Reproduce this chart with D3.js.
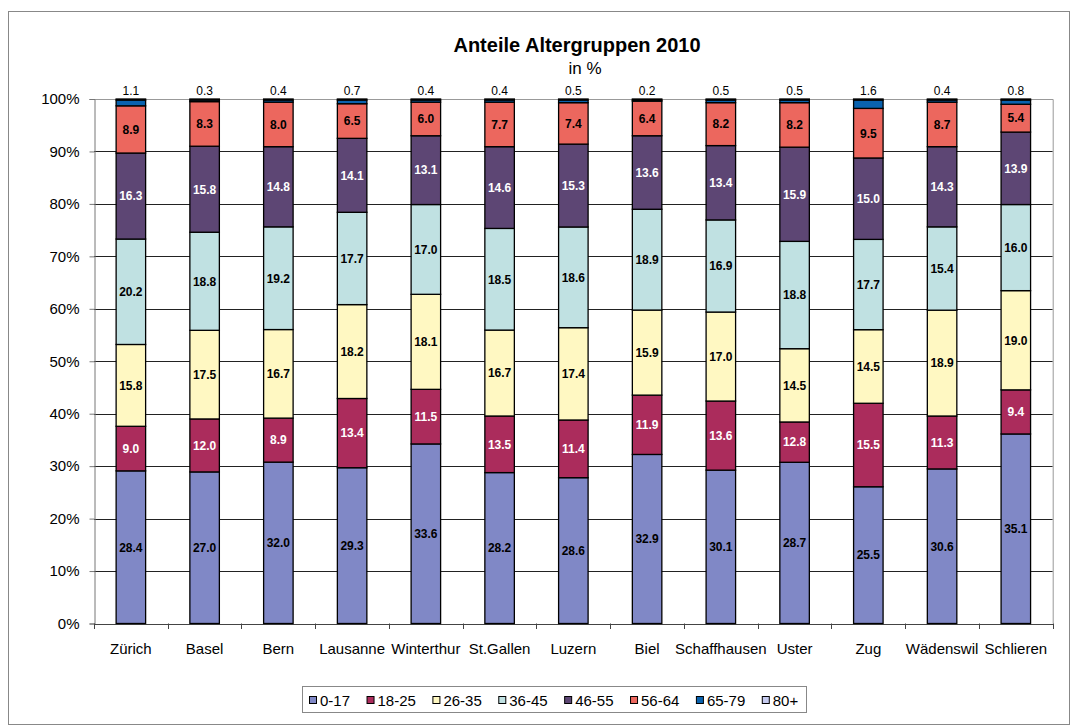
<!DOCTYPE html>
<html><head><meta charset="utf-8">
<script src="https://cdn.jsdelivr.net/npm/d3@7"></script>
<style>body{margin:0;background:#fff}svg{display:block;font-family:"Liberation Sans",Arial,sans-serif}</style>
</head><body><svg id="c" width="1071" height="726"></svg>
<script>
const cities = ["Zürich","Basel","Bern","Lausanne","Winterthur","St.Gallen","Luzern","Biel","Schaffhausen","Uster","Zug","Wädenswil","Schlieren"];
const ageGroups = ["0-17","18-25","26-35","36-45","46-55","56-64","65-79","80+"];
const colors = ["#8088C6","#AB2C5C","#FFF8C2","#C0E1E2","#5D4674","#EC675E","#0A62AE","#C6CBF0"];
const labelColors = ["#000","#fff","#000","#000","#fff","#000"];
// segment sizes as drawn
const v0_17  = [29.1,28.9,30.8,29.7,34.2,28.8,27.8,32.2,29.3,30.8,26.2,29.5,36.1];
const v18_25 = [8.5,10.1,8.4,13.2,10.4,10.8,11.0,11.3,13.2,7.7,16.0,10.1,8.4];
const v26_35 = [15.6,16.9,16.9,17.9,18.1,16.4,17.6,16.2,17.0,14.0,14.1,20.2,18.9];
const v36_45 = [20.1,18.7,19.6,17.6,17.1,19.4,19.2,19.2,17.6,20.5,17.3,15.9,16.4];
const v46_55 = [16.4,16.4,15.3,14.1,13.1,15.6,15.8,14.0,14.2,18.0,15.6,15.3,13.8];
const v56_64 = [9.0,8.5,8.5,6.6,6.4,8.5,7.9,6.6,8.2,8.5,9.5,8.5,5.3];
const v65_79 = [1.1,0.3,0.4,0.7,0.4,0.4,0.5,0.2,0.5,0.5,1.6,0.4,0.8];
const v80    = [0.2,0.2,0.2,0.2,0.2,0.2,0.2,0.2,0.2,0.2,0.2,0.2,0.2];
// data labels as printed
const l0_17  = ["28.4","27.0","32.0","29.3","33.6","28.2","28.6","32.9","30.1","28.7","25.5","30.6","35.1"];
const l18_25 = ["9.0","12.0","8.9","13.4","11.5","13.5","11.4","11.9","13.6","12.8","15.5","11.3","9.4"];
const l26_35 = ["15.8","17.5","16.7","18.2","18.1","16.7","17.4","15.9","17.0","14.5","14.5","18.9","19.0"];
const l36_45 = ["20.2","18.8","19.2","17.7","17.0","18.5","18.6","18.9","16.9","18.8","17.7","15.4","16.0"];
const l46_55 = ["16.3","15.8","14.8","14.1","13.1","14.6","15.3","13.6","13.4","15.9","15.0","14.3","13.9"];
const l56_64 = ["8.9","8.3","8.0","6.5","6.0","7.7","7.4","6.4","8.2","8.2","9.5","8.7","5.4"];
const l65_79 = ["1.1","0.3","0.4","0.7","0.4","0.4","0.5","0.2","0.5","0.5","1.6","0.4","0.8"];
const yTicks = [0,0.1,0.2,0.3,0.4,0.5,0.6,0.7,0.8,0.9,1.0];
const titleText = "Anteile Altergruppen 2010";
const subtitleText = "in %";

const series = [v0_17,v18_25,v26_35,v36_45,v46_55,v56_64,v65_79,v80];
const labels = [l0_17,l18_25,l26_35,l36_45,l46_55,l56_64];
const rows = cities.map((c,i)=>{const r={city:c};ageGroups.forEach((g,k)=>r[g]=series[k][i]);return r;});
const stacked = d3.stack().keys(ageGroups).offset(d3.stackOffsetExpand)(rows);

const svg = d3.select("#c");
const L=94, R=1052.7, T=99, B=623.5;
const x = d3.scaleBand().domain(cities).range([L,R]).paddingInner(0.6).paddingOuter(0.3);
const y = d3.scaleLinear().domain([0,1]).range([B,T]);

// outer frame
svg.append("rect").attr("x",8.5).attr("y",11.5).attr("width",1061).attr("height",713)
  .attr("fill","none").attr("stroke","#888").attr("stroke-width",1);

// gridlines
svg.append("g").selectAll("line").data(yTicks.slice(1,-1)).join("line")
  .attr("x1",L).attr("x2",R).attr("y1",d=>Math.round(y(d))+0.5).attr("y2",d=>Math.round(y(d))+0.5)
  .attr("stroke","#222").attr("stroke-width",1);
// plot border top/right
svg.append("path").attr("d",`M${L},${T+0.5}H${R+0.5}V${B}`).attr("fill","none").attr("stroke","#999");

// y axis
const yAxis = d3.axisLeft(y).tickValues(yTicks).tickFormat(d3.format(".0%")).tickSize(5).tickPadding(10);
const ya = svg.append("g").attr("transform",`translate(${L+0.5},0)`).call(yAxis);
ya.select(".domain").attr("stroke","#777");
ya.selectAll(".tick line").attr("stroke","#777");
ya.selectAll("text").attr("font-size",15).attr("fill","#000").attr("font-family","Liberation Sans, Arial, sans-serif");

// x axis
const xa = svg.append("g").attr("transform",`translate(0,${B+0.5})`).call(d3.axisBottom(x).tickSize(0).tickPadding(19));
xa.select(".domain").attr("stroke","#444");
xa.selectAll("text").attr("font-size",15).attr("fill","#000").attr("font-family","Liberation Sans, Arial, sans-serif");
const step = x.step();
svg.append("g").selectAll("line").data(d3.range(cities.length+1)).join("line")
  .attr("x1",i=>Math.round(L+i*step)+0.5).attr("x2",i=>Math.round(L+i*step)+0.5)
  .attr("y1",B).attr("y2",B+5.5).attr("stroke","#444");

// bars
const gBars = svg.append("g");
stacked.forEach((s,k)=>{
  gBars.append("g").selectAll("rect").data(s).join("rect")
    .attr("x",d=>x(d.data.city)).attr("width",x.bandwidth())
    .attr("y",d=>y(d[1])).attr("height",d=>y(d[0])-y(d[1]))
    .attr("fill",colors[k]).attr("stroke","#000").attr("stroke-width",1.3);
});

// inner labels
const gLab = svg.append("g").attr("font-size",12).attr("font-weight","bold").attr("text-anchor","middle");
labels.forEach((lab,k)=>{
  gLab.append("g").selectAll("text").data(stacked[k]).join("text")
    .attr("x",d=>x(d.data.city)+x.bandwidth()/2)
    .attr("y",d=>(y(d[0])+y(d[1]))/2).attr("dy","0.36em")
    .attr("fill",labelColors[k]).text((d,i)=>lab[i]);
});
// top labels (65-79)
svg.append("g").attr("font-size",12).attr("text-anchor","middle").selectAll("text").data(stacked[6]).join("text")
  .attr("x",d=>x(d.data.city)+x.bandwidth()/2).attr("y",y(1)-8).attr("dy","0.36em")
  .attr("fill","#000").text((d,i)=>l65_79[i]);

// title
svg.append("text").attr("x",577).attr("y",52).attr("text-anchor","middle")
  .attr("font-size",20).attr("font-weight","bold").text(titleText);
svg.append("text").attr("x",585).attr("y",74).attr("text-anchor","middle")
  .attr("font-size",17).text(subtitleText);

// legend
const lg = svg.append("g");
lg.append("rect").attr("x",302.5).attr("y",686.5).attr("width",504).attr("height",26)
  .attr("fill","#fff").attr("stroke","#888");
let lx = 309;
ageGroups.forEach((g,k)=>{
  lg.append("rect").attr("x",lx+0.5).attr("y",696.5).attr("width",7).attr("height",7)
    .attr("fill",colors[k]).attr("stroke","#000");
  const t = lg.append("text").attr("x",lx+11).attr("y",705.5).attr("font-size",15).text(g);
  lx = lx + 11 + t.node().getComputedTextLength() + 16.5;
});
</script></body></html>
